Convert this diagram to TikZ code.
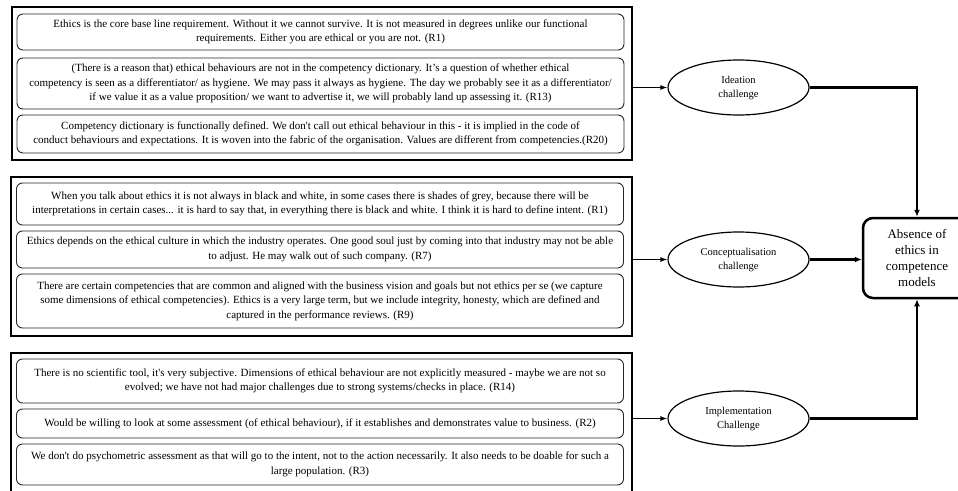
\documentclass[tikz,border=0pt]{standalone}
\usepackage{fontspec}
\setmainfont{Liberation Serif}[Ligatures=TeXOff]
\usetikzlibrary{shapes.geometric,arrows.meta}
\begin{document}
\begin{tikzpicture}[x=1pt,y=-1pt,
  grp/.style={draw, line width=1.6pt, inner sep=0pt},
  qbox/.style={draw=black!85, line width=0.9pt, rounded corners=6pt, minimum width=607pt, inner sep=0pt, align=center, font=\fontsize{11}{14.5}\selectfont},
  chal/.style={draw, ellipse, line width=1.2pt, minimum width=141pt, minimum height=55pt, inner sep=0pt, align=center, font=\fontsize{10.5}{14}\selectfont},
  res/.style={draw, line width=2.5pt, rounded corners=10pt, minimum width=108pt, minimum height=80pt, inner sep=0pt, align=center, font=\fontsize{13}{16}\selectfont},
  arr/.style={line width=1.2pt, -{Latex[length=7pt,width=5pt]}},
  tarr/.style={line width=2.5pt, -{Latex[length=7pt,width=6pt]}}]
\useasboundingbox (0,0) rectangle (958,490);

% group frames
\node[grp, minimum width=620pt, minimum height=153pt] (g1) at (322,83.5) {};
\node[grp, minimum width=621pt, minimum height=159pt] (g2) at (321.5,256.5) {};
\node[grp, minimum width=621pt, minimum height=144pt] (g3) at (321.5,425) {};

% top group
\node[qbox, minimum height=36pt] (a1) at (320.5,32) {Ethics is the core base line requirement. Without it we cannot survive. It is not measured in degrees unlike our functional\\ requirements. Either you are ethical or you are not. (R1)};
\node[qbox, minimum height=51pt] (a2) at (320.5,83.5) {(There is a reason that) ethical behaviours are not in the competency dictionary. It’s a question of whether ethical\\ competency is seen as a differentiator/ as hygiene. We may pass it always as hygiene. The day we probably see it as a differentiator/\\ if we value it as a value proposition/ we want to advertise it, we will probably land up assessing it. (R13)};
\node[qbox, minimum height=38pt] (a3) at (320.5,134) {Competency dictionary is functionally defined. We don't call out ethical behaviour in this - it is implied in the code of\\ conduct behaviours and expectations. It is woven into the fabric of the organisation. Values are different from competencies.(R20)};

% middle group
\node[qbox, minimum height=42pt] (b1) at (320,204) {When you talk about ethics it is not always in black and white, in some cases there is shades of grey, because there will be\\ interpretations in certain cases... it is hard to say that, in everything there is black and white. I think it is hard to define intent. (R1)};
\node[qbox, minimum height=37pt] (b2) at (320,249.5) {Ethics depends on the ethical culture in which the industry operates. One good soul just by coming into that industry may not be able\\ to adjust. He may walk out of such company. (R7)};
\node[qbox, minimum height=54pt] (b3) at (320,301) {There are certain competencies that are common and aligned with the business vision and goals but not ethics per se (we capture\\ some dimensions of ethical competencies). Ethics is a very large term, but we include integrity, honesty, which are defined and\\ captured in the performance reviews. (R9)};

% bottom group
\node[qbox, minimum height=44pt] (c1) at (320,381) {There is no scientific tool, it's very subjective. Dimensions of ethical behaviour are not explicitly measured - maybe we are not so\\ evolved; we have not had major challenges due to strong systems/checks in place. (R14)};
\node[qbox, minimum height=29pt] (c2) at (320,423.5) {Would be willing to look at some assessment (of ethical behaviour), if it establishes and demonstrates value to business. (R2)};
\node[qbox, minimum height=41pt] (c3) at (320,464.5) {We don't do psychometric assessment as that will go to the intent, not to the action necessarily. It also needs to be doable for such a\\ large population. (R3)};

% challenges
\node[chal] (idea) at (738.5,87.5) {Ideation\\ challenge};
\node[chal] (conc) at (738.5,259.5) {Conceptualisation\\ challenge};
\node[chal] (impl) at (738.5,418.5) {Implementation\\ Challenge};

% result
\node[res] (abs) at (917,258) {Absence of\\ ethics in\\ competence\\ models};

% connectors
\draw[arr] (idea.west -| g1.east) -- (idea.west);
\draw[arr] (conc.west -| g2.east) -- (conc.west);
\draw[arr] (impl.west -| g3.east) -- (impl.west);
\draw[tarr] (idea.east) -| (abs.north);
\draw[tarr] (conc.east) -- (conc.east -| abs.west);
\draw[tarr] (impl.east) -| (abs.south);
\end{tikzpicture}
\end{document}
